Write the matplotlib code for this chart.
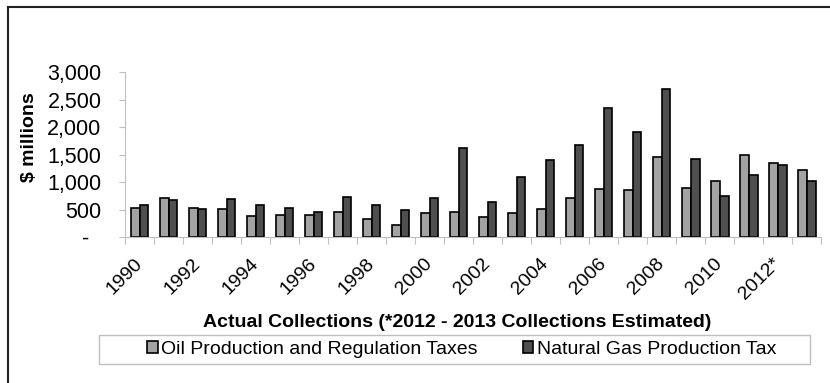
import numpy as np
import matplotlib.pyplot as plt
from matplotlib.lines import Line2D
from matplotlib.patches import Rectangle
from matplotlib.ticker import FuncFormatter

plt.rcParams['font.family'] = ['Liberation Sans', 'DejaVu Sans']

years = [str(y) for y in range(1990, 2014)]
tick_labels = ['1990', '1992', '1994', '1996', '1998', '2000',
               '2002', '2004', '2006', '2008', '2010', '2012*']
oil_taxes = [533, 709, 527, 509, 376, 394, 394, 455, 321, 224,
             430, 461, 358, 442, 509, 703, 879, 848, 1448, 897,
             1024, 1485, 1339, 1212]
gas_tax = [576, 679, 509, 697, 576, 527, 461, 727, 588, 497,
           715, 1612, 642, 1091, 1406, 1667, 2351, 1909, 2691, 1424,
           739, 1121, 1309, 1012]

fig = plt.figure(figsize=(8.3, 3.83), dpi=100)
ax = fig.add_axes([0.1506, 0.381, 0.839, 0.431])

x = np.arange(len(years))
w = 0.3
ax.bar(x - w / 2, oil_taxes, w, color='#a3a3a3', edgecolor='black',
       linewidth=1.2, label='Oil Production and Regulation Taxes')
ax.bar(x + w / 2, gas_tax, w, color='#4f4f4f', edgecolor='black',
       linewidth=1.2, label='Natural Gas Production Tax')

ax.set_xlim(-0.5, len(years) - 0.5)
ax.set_ylim(0, 3000)
ax.set_yticks(np.arange(0, 3001, 500))
# accounting style: zero shown as a dash
ax.yaxis.set_major_formatter(FuncFormatter(
    lambda v, p: '-  ' if v == 0 else f'{int(v):,}'))
ax.tick_params(axis='y', labelsize=15.5, length=4, color='#bfbfbf', pad=13)

# tick marks on the category boundaries, year labels under every other group
ax.set_xticks(np.arange(-0.5, len(years), 1))
ax.set_xticklabels([])
ax.tick_params(axis='x', length=5, color='#bfbfbf')
for i, lab in enumerate(tick_labels):
    ax.text(2 * i, -0.145, lab, rotation=45, ha='right', va='center',
            rotation_mode='anchor', fontsize=14,
            transform=ax.get_xaxis_transform())

for side in ['top', 'right']:
    ax.spines[side].set_visible(False)
ax.spines['left'].set_color('#bfbfbf')
ax.spines['bottom'].set_color('#bfbfbf')

ax.set_ylabel('$ millions', fontsize=14, fontweight='bold')
ax.yaxis.set_label_coords(-0.125, 0.606)
fig.text(0.551, 0.159, 'Actual Collections (*2012 - 2013 Collections Estimated)',
         ha='center', va='center', fontsize=14, fontweight='bold')

# legend box is wider than its entries
fig.add_artist(Rectangle((0.1193, 0.0496), 0.8566, 0.0757, fill=False,
                         edgecolor='#bfbfbf', lw=1.0,
                         transform=fig.transFigure))
leg = fig.legend(loc='center left', bbox_to_anchor=(0.177, 0.088), ncol=2,
                 frameon=False, fontsize=14,
                 handlelength=0.55, handleheight=0.6, handletextpad=0.2,
                 columnspacing=2.3, borderpad=0, borderaxespad=0)

# outer frame on the top and left edges
fig.add_artist(Line2D([0.0096, 0.0096], [0, 0.982], color='#222222', lw=1.5,
                      transform=fig.transFigure))
fig.add_artist(Line2D([0.0096, 1.0], [0.982, 0.982], color='#222222', lw=1.5,
                      transform=fig.transFigure))

fig.savefig('out.png', dpi=100)
